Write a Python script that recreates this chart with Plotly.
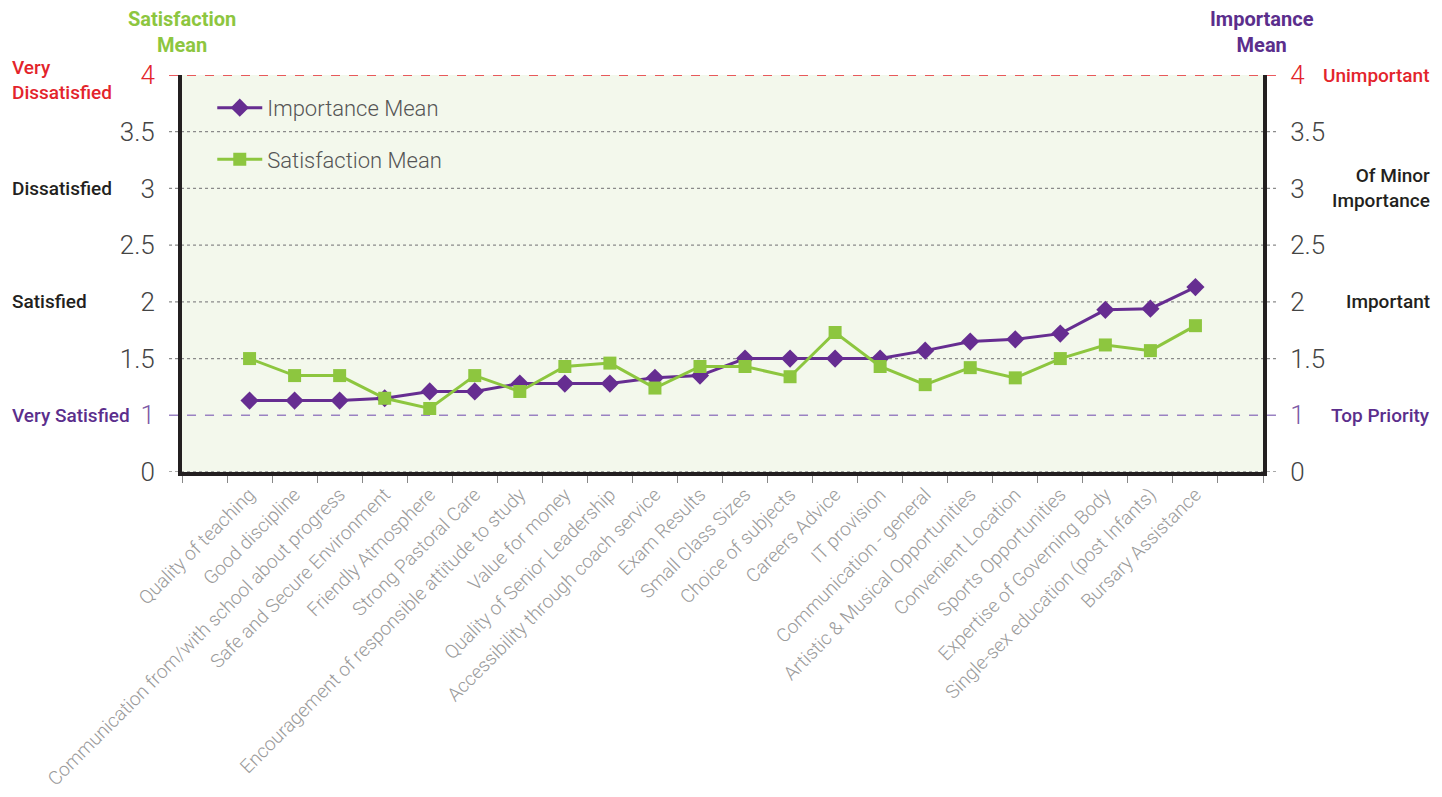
import plotly.graph_objects as go

categories = [
    "Quality of teaching", "Good discipline",
    "Communication from/with school about progress",
    "Safe and Secure Environment", "Friendly Atmosphere",
    "Strong Pastoral Care",
    "Encouragement of responsible attitude to study",
    "Value for money", "Quality of Senior Leadership",
    "Accessibility through coach service", "Exam Results",
    "Small Class Sizes", "Choice of subjects", "Careers Advice",
    "IT provision", "Communication - general",
    "Artistic & Musical Opportunities", "Convenient Location",
    "Sports Opportunities", "Expertise of Governing Body",
    "Single-sex education (post Infants)", "Bursary Assistance",
]
importance_mean = [1.13, 1.13, 1.13, 1.15, 1.21, 1.21, 1.28, 1.28, 1.28, 1.33, 1.35,
                   1.50, 1.50, 1.50, 1.50, 1.57, 1.65, 1.67, 1.72, 1.93, 1.94, 2.13]
satisfaction_mean = [1.50, 1.35, 1.35, 1.15, 1.06, 1.35, 1.21, 1.43, 1.46, 1.24, 1.43,
                     1.43, 1.34, 1.73, 1.43, 1.27, 1.42, 1.33, 1.50, 1.62, 1.57, 1.79]
y_tickvals = [0.5, 1, 1.5, 2, 2.5, 3, 3.5, 4]
y_ticklabels = ["0", "1", "1.5", "2", "2.5", "3", "3.5", "4"]
left_scale_labels = [(3.96, "Very<br>Dissatisfied", "#e3242b"), (3, "Dissatisfied", "#231f20"),
                     (2, "Satisfied", "#231f20"), (1, "Very Satisfied", "#5b2e8c")]
right_scale_labels = [(4, "Unimportant", "#e3242b"), (3, "Of Minor<br>Importance", "#231f20"),
                      (2, "Important", "#231f20"), (1, "Top Priority", "#5b2e8c")]

PURPLE = "#662d91"
GREEN = "#8dc63f"
RED = "#e3242b"
FONT = "Roboto"

def tick_text(v, t):
    if v == 4:
        return f'<span style="color:{RED}">{t}</span>'
    if v == 1:
        return f'<span style="color:#7d5aa6">{t}</span>'
    return t

ticktext = [tick_text(v, t) for v, t in zip(y_tickvals, y_ticklabels)]
xidx = list(range(len(categories)))

fig = go.Figure()
fig.add_trace(go.Scatter(
    x=xidx, y=importance_mean, name="Importance Mean", mode="lines+markers",
    line=dict(color=PURPLE, width=3), marker=dict(symbol="diamond", size=14, color=PURPLE),
    legendgroup="a"))
fig.add_trace(go.Scatter(
    x=xidx, y=satisfaction_mean, name="Satisfaction Mean", mode="lines+markers",
    line=dict(color=GREEN, width=3), marker=dict(symbol="square", size=13, color=GREEN),
    legendgroup="b"))
fig.add_trace(go.Scatter(x=[None], y=[None], yaxis="y2", showlegend=False, hoverinfo="skip"))

# horizontal reference lines
for v in y_tickvals:
    if v == 4:
        col, dash, w = RED, "dash", 1.5
    elif v == 1:
        col, dash, w = "#9a82c2", "dash", 1.6
    else:
        col, dash, w = "#8a8a8a", "dot", 1.3
    fig.add_shape(type="line", xref="paper", yref="y", x0=-0.012, x1=1.012, y0=v, y1=v,
                  line=dict(color=col, width=w, dash=dash), layer="below")

yax = dict(range=[0.5, 4], tickvals=y_tickvals, ticktext=ticktext, showgrid=False,
           zeroline=False, showline=True, linecolor="#231f20", linewidth=4,
           ticks="", ticklabelstandoff=18, automargin=False,
           tickfont=dict(family=FONT, size=26, color="#444444", weight=300))

# figure is placed inside a page body with 8px margin -> positions compensated
W, H = 1426, 781

annotations = []
for v, t, c in left_scale_labels:
    annotations.append(dict(x=(2 - 174) / 1081, xref="paper", y=v, yref="y", text=t,
                            showarrow=False, xanchor="left", yanchor="middle", align="left",
                            font=dict(family=FONT, size=19, color=c, weight=500)))
for v, t, c in right_scale_labels:
    annotations.append(dict(x=(1424 - 174) / 1081, xref="paper", y=v, yref="y", text=t,
                            showarrow=False, xanchor="right", yanchor="middle", align="right",
                            font=dict(family=FONT, size=19, color=c, weight=500)))
annotations.append(dict(x=0.0, xref="paper", y=1.108, yref="paper", text="Satisfaction<br>Mean",
                        showarrow=False, xanchor="center", yanchor="middle", align="center",
                        font=dict(family=FONT, size=20, color=GREEN, weight="bold")))
annotations.append(dict(x=0.999, xref="paper", y=1.108, yref="paper", text="Importance<br>Mean",
                        showarrow=False, xanchor="center", yanchor="middle", align="center",
                        font=dict(family=FONT, size=20, color="#5b2e8c", weight="bold")))

fig.update_layout(
    width=W, height=H,
    margin=dict(l=174, r=W - 1255, t=67, b=H - 464, autoexpand=False),
    paper_bgcolor="white", plot_bgcolor="#f3f8ec",
    showlegend=True,
    legend=dict(x=0.028, y=0.97, xanchor="left", yanchor="top", bgcolor="rgba(0,0,0,0)",
                font=dict(family=FONT, size=22, color="#555555", weight=300),
                tracegroupgap=20, itemwidth=45),
    xaxis=dict(range=[-1.5, len(categories) + 0.5], tickvals=xidx, ticktext=categories,
               tickangle=-45, ticks="", showgrid=False, zeroline=False, automargin=False,
               showline=True, linecolor="#231f20", linewidth=4, ticklabelstandoff=0,
               tickfont=dict(family=FONT, size=19, color="#9a9a9a", weight=300),
               minor=dict(ticks="outside", tick0=0.5, dtick=1, ticklen=7, tickwidth=1,
                          tickcolor="#888888")),
    yaxis=yax,
    yaxis2=dict(yax, overlaying="y", side="right"),
    annotations=annotations,
    hovermode=False,
)

fig.write_html("out.html")
